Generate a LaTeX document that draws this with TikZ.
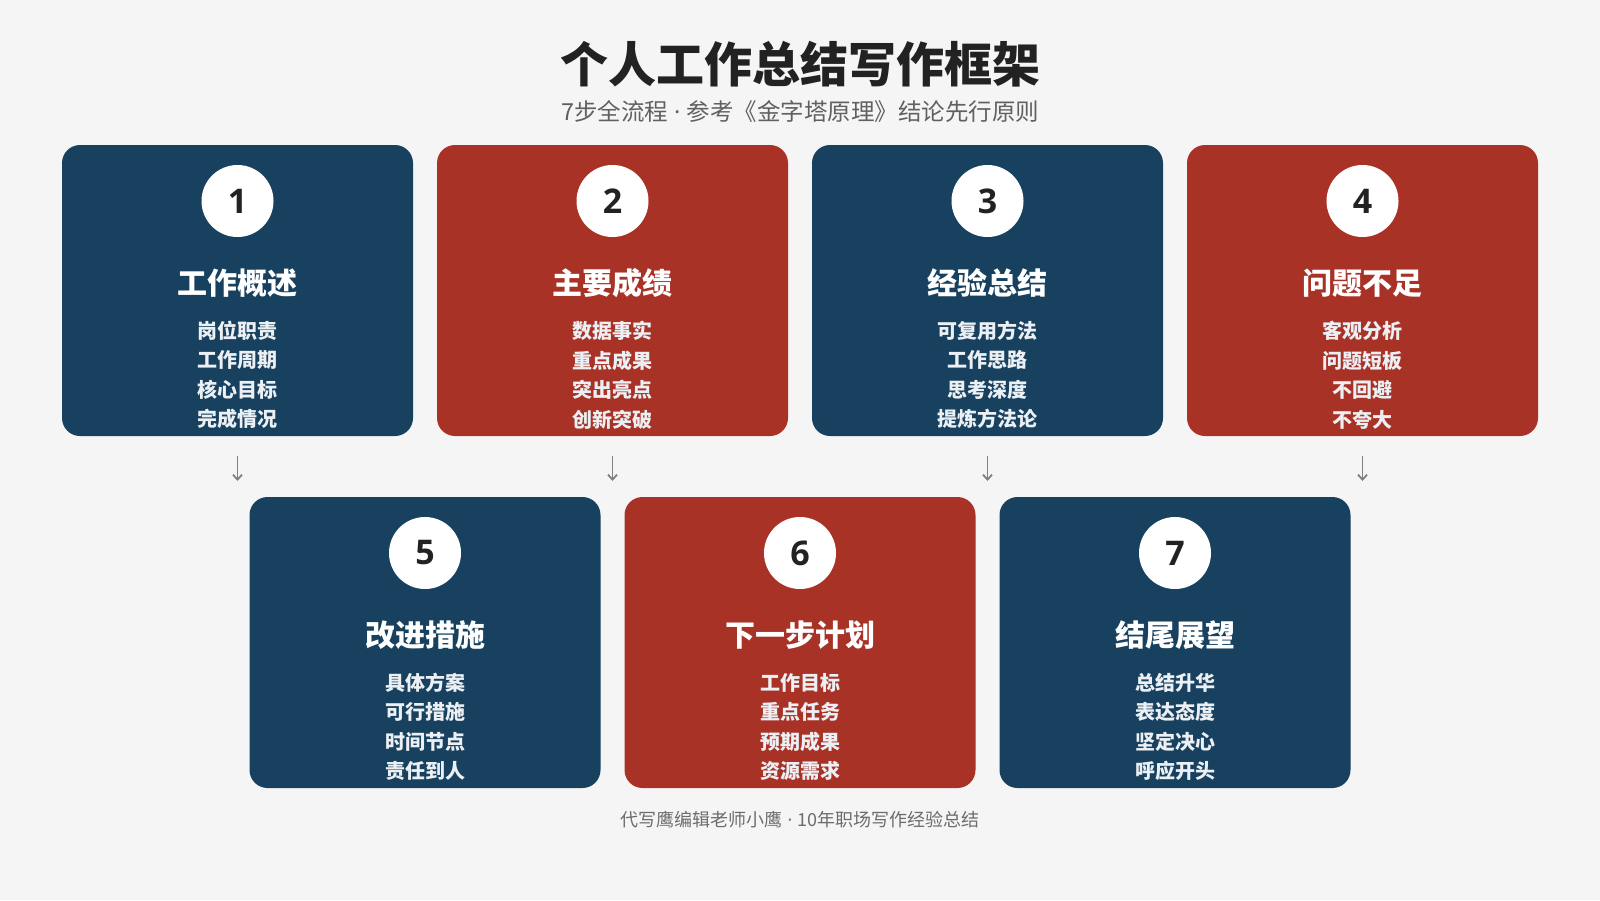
\documentclass[tikz,border=0pt]{standalone}
\usepackage{fontspec}
\setmainfont{Noto Sans CJK SC}
\newfontfamily\digitfont{Open Sans}
\usepackage{tikz}
\usetikzlibrary{arrows.meta}

\definecolor{navy}{RGB}{23,65,95}
\definecolor{brick}{RGB}{168,50,38}
\definecolor{paper}{RGB}{245,245,245}
\definecolor{ink}{RGB}{34,34,34}
\definecolor{soft}{RGB}{236,240,244}

\tikzset{
    card/.style={minimum width=351pt, minimum height=291pt, rounded corners=18pt, inner sep=0pt},
    bluecard/.style={card, fill=navy},
    redcard/.style={card, fill=brick},
    numdot/.style={circle, fill=white, minimum size=72pt, inner sep=0pt, text=ink,
        font=\digitfont\bfseries\fontsize{34}{40}\selectfont},
    head/.style={text=white, font=\bfseries\fontsize{30}{36}\selectfont},
    items/.style={text=soft, align=center, font=\bfseries\fontsize{20}{29.5}\selectfont},
    down/.style={draw=gray, line width=1.8pt, -{Straight Barb[length=5pt,width=9pt]}}
}

\begin{document}
\begin{tikzpicture}[x=1pt,y=-1pt]
            \fill[paper] (0,0) rectangle (1600,900);
            \useasboundingbox (0,0) rectangle (1600,900);

            \node[text=ink, font=\bfseries\fontsize{48}{56}\selectfont] (title) at (800,64) {个人工作总结写作框架};
            \node[text=gray!75!black, font=\fontsize{23.5}{28}\selectfont] (sub) at (800,112) {7步全流程{\digitfont\ ·\ }参考《金字塔原理》结论先行原则};

            \node[bluecard] (b1) at (237.5,290.5) {};
            \node[numdot] (n1) at (237.5,201) {1};
            \node[head] (h1) at (237.5,283) {工作概述};
            \node[items] (l1) at (237.5,375) {岗位职责\\工作周期\\核心目标\\完成情况};

            \node[redcard] (b2) at (612.5,290.5) {};
            \node[numdot] (n2) at (612.5,201) {2};
            \node[head] (h2) at (612.5,283) {主要成绩};
            \node[items] (l2) at (612.5,375) {数据事实\\重点成果\\突出亮点\\创新突破};

            \node[bluecard] (b3) at (987.5,290.5) {};
            \node[numdot] (n3) at (987.5,201) {3};
            \node[head] (h3) at (987.5,283) {经验总结};
            \node[items] (l3) at (987.5,375) {可复用方法\\工作思路\\思考深度\\提炼方法论};

            \node[redcard] (b4) at (1362.5,290.5) {};
            \node[numdot] (n4) at (1362.5,201) {4};
            \node[head] (h4) at (1362.5,283) {问题不足};
            \node[items] (l4) at (1362.5,375) {客观分析\\问题短板\\不回避\\不夸大};

            \coordinate (a1) at (237.5,481);
            \coordinate (a2) at (612.5,481);
            \coordinate (a3) at (987.5,481);
            \coordinate (a4) at (1362.5,481);
            \draw[down] ([yshift=-20pt]b1.south) -- (a1);
            \draw[down] ([yshift=-20pt]b2.south) -- (a2);
            \draw[down] ([yshift=-20pt]b3.south) -- (a3);
            \draw[down] ([yshift=-20pt]b4.south) -- (a4);

            \node[bluecard] (b5) at (425,642.5) {};
            \node[numdot] (n5) at (425,553) {5};
            \node[head] (h5) at (425,635) {改进措施};
            \node[items] (l5) at (425,727) {具体方案\\可行措施\\时间节点\\责任到人};

            \node[redcard] (b6) at (800,642.5) {};
            \node[numdot] (n6) at (800,553) {6};
            \node[head] (h6) at (800,635) {下一步计划};
            \node[items] (l6) at (800,727) {工作目标\\重点任务\\预期成果\\资源需求};

            \node[bluecard] (b7) at (1175,642.5) {};
            \node[numdot] (n7) at (1175,553) {7};
            \node[head] (h7) at (1175,635) {结尾展望};
            \node[items] (l7) at (1175,727) {总结升华\\表达态度\\坚定决心\\呼应开头};

            \node[text=gray!85!black, font=\fontsize{18}{22}\selectfont] (foot) at (800,820) {代写鹰编辑老师小鹰{\digitfont\ ·\ }10年职场写作经验总结};
        \end{tikzpicture}
\end{document}
